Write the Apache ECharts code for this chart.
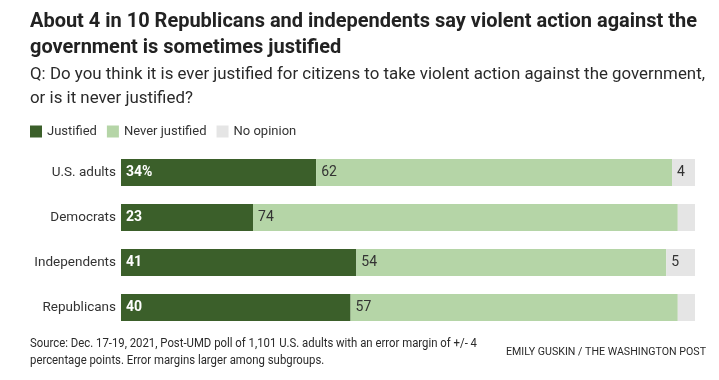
<!DOCTYPE html>
<html><head><meta charset="utf-8">
<script src="https://cdn.jsdelivr.net/npm/echarts@6/dist/echarts.min.js"></script>
<style>html,body{margin:0;padding:0;background:#fff}#c{width:719px;height:380px}</style>
</head><body><div id="c"></div>
<script>
const categories = ['U.S. adults', 'Democrats', 'Independents', 'Republicans'];
const justified = [34, 23, 41, 40];
const neverJustified = [62, 74, 54, 57];
const noOpinion = [4, 3, 5, 3];
const justifiedLabels = ['34%', '23', '41', '40'];
const noOpinionLabelShown = [true, false, true, false];

const titleLines = ['About 4 in 10 Republicans and independents say violent action against the', 'government is sometimes justified'];
const subtitleLines = ['Q: Do you think it is ever justified for citizens to take violent action against the government,', 'or is it never justified?'];
const sourceLines = ['Source: Dec. 17-19, 2021, Post-UMD poll of 1,101 U.S. adults with an error margin of +/- 4', 'percentage points. Error margins larger among subgroups.'];
const credit = 'EMILY GUSKIN / THE WASHINGTON POST';

const ctx = document.createElement('canvas').getContext('2d');
function measure(font, text) { ctx.font = font; return ctx.measureText(text).width; }

const titleFont = 'bold 20px Roboto';
const subFont = '17px Roboto';
const srcFont = '12.5px Roboto';
const creditFont = '11px Roboto';
const titleScale = 667 / measure(titleFont, titleLines[0]);
const subScale = 675 / measure(subFont, subtitleLines[0]);
const srcScale = 447 / measure(srcFont, sourceLines[0]);
const creditScale = 200 / measure(creditFont, credit);

function txt(text, font, x, y, sx, align, color) {
  return {type: 'text', x: x, y: y, scaleX: sx, originX: 0, originY: 0, silent: true,
    style: {text: text, font: font, fill: color || '#222', align: align || 'left', verticalAlign: 'middle'}};
}

const chart = echarts.init(document.getElementById('c'), null, {renderer: 'canvas'});
chart.setOption({
  animation: false,
  graphic: [
    txt(titleLines[0], titleFont, 30, 22, titleScale),
    txt(titleLines[1], titleFont, 30, 48, titleScale),
    txt(subtitleLines[0], subFont, 30, 75, subScale, 'left', '#2a2a2a'),
    txt(subtitleLines[1], subFont, 30, 99, subScale, 'left', '#2a2a2a'),
    txt(sourceLines[0], srcFont, 30, 344, srcScale, 'left', '#2a2a2a'),
    txt(sourceLines[1], srcFont, 30, 361, srcScale, 'left', '#2a2a2a'),
    txt(credit, creditFont, 706, 352, creditScale, 'right', '#2a2a2a')
  ],
  legend: {
    left: 30, top: 125, padding: 0, itemWidth: 12, itemHeight: 12, itemGap: 10,
    icon: 'rect',
    textStyle: {fontFamily: 'Roboto, sans-serif', fontSize: 13, color: '#333'},
    data: ['Justified', 'Never justified', 'No opinion']
  },
  grid: {left: 121, right: 24, top: 150, bottom: 50, containLabel: false},
  xAxis: {type: 'value', min: 0, max: 100, show: false},
  yAxis: {type: 'category', data: categories, inverse: true,
    axisLine: {show: false}, axisTick: {show: false},
    axisLabel: {fontFamily: 'Roboto, sans-serif', fontSize: 13.5, color: '#333', margin: 5}},
  series: [
    {name: 'Justified', type: 'bar', stack: 'a', barWidth: 27, data: justified,
     itemStyle: {color: '#3b5f2a'},
     label: {show: true, position: 'insideLeft', distance: 5, color: '#fff', fontWeight: 'bold', fontFamily: 'Roboto, sans-serif', fontSize: 14,
       formatter: p => justifiedLabels[p.dataIndex]}},
    {name: 'Never justified', type: 'bar', stack: 'a', barWidth: 27, data: neverJustified,
     itemStyle: {color: '#b5d5a7'},
     label: {show: true, position: 'insideLeft', distance: 5, color: '#333', fontFamily: 'Roboto, sans-serif', fontSize: 14}},
    {name: 'No opinion', type: 'bar', stack: 'a', barWidth: 27,
     data: noOpinion.map((v, i) => ({value: v, label: {show: noOpinionLabelShown[i]}})),
     itemStyle: {color: '#e5e5e5'},
     label: {position: 'insideLeft', distance: 5, color: '#333', fontFamily: 'Roboto, sans-serif', fontSize: 14}}
  ]
});
</script></body></html>
